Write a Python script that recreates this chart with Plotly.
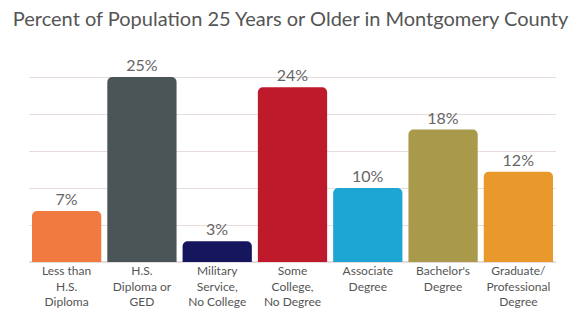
import plotly.graph_objects as go

categories = ["Less than<br>H.S.<br>Diploma", "H.S.<br>Diploma or<br>GED", "Military<br>Service,<br>No College",
              "Some<br>College,<br>No Degree", "Associate<br>Degree", "Bachelor's<br>Degree",
              "Graduate/<br>Professional<br>Degree"]
values = [6.9, 25.0, 2.8, 23.6, 10.0, 17.9, 12.2]
labels = ["7%", "25%", "3%", "24%", "10%", "18%", "12%"]
colors = ["#F07A3F", "#4B5557", "#16165E", "#BE1A2B", "#1DA6D4", "#A8994B", "#E9982B"]

fig = go.Figure(go.Bar(
    x=categories, y=values, marker_color=colors, marker_line_width=0,
    text=labels, textposition="outside", cliponaxis=False,
    textfont=dict(family="Lato", size=16, color="#666666"),
))
fig.update_layout(
    width=581, height=312,
    margin=dict(l=29, r=25, t=40, b=50, autoexpand=False),
    paper_bgcolor="white", plot_bgcolor="white",
    bargap=0.08, barcornerradius=5,
    showlegend=False,
    title=dict(text="Percent of Population 25 Years or Older in Montgomery County",
               x=0.5, xanchor="center", y=0.94, yanchor="middle",
               font=dict(family="Lato", size=20, color="#555555")),
    font=dict(family="Lato"),
)
fig.update_xaxes(tickfont=dict(family="Lato", size=12, color="#555555"), showline=False,
                 ticks="", tickangle=0, automargin=False)
fig.update_yaxes(range=[0, 30], dtick=5, showticklabels=False, gridcolor="#E6DCDC",
                 gridwidth=1, zeroline=True, zerolinecolor="#E6DCDC", automargin=False)
fig.write_html("out.html", config={"displayModeBar": False},
               post_script="document.body.style.margin='0';document.body.style.overflow='hidden';")
